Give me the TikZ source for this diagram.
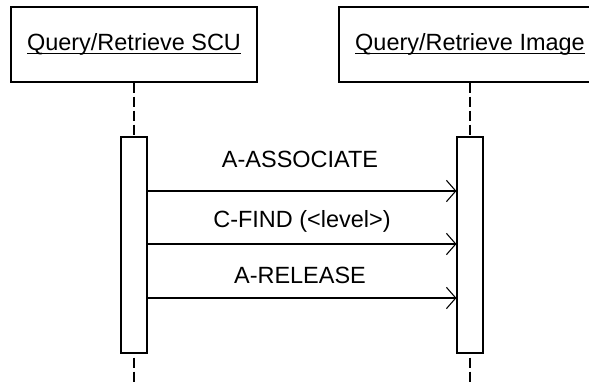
\documentclass[tikz,border=0pt]{standalone}
\usepackage{amsmath}
\usepackage{fontspec}
\setmainfont{Liberation Sans}
\usetikzlibrary{positioning, arrows.meta}
\newcommand{\objname}[1]{\underline{\smash[b]{#1}}}

\begin{document}
\begin{tikzpicture}[
    x=0.75pt,
    y=-0.75pt,
    line width=0.8pt,
    font=\fontsize{17.6}{20}\selectfont,
    object/.style={draw, minimum height=56.25pt, minimum width=184.5pt},
    activation/.style={draw, fill=white, minimum width=19.5pt, minimum height=162pt},
    lifeline/.style={dash pattern=on 7.5pt off 3pt},
    msg/.style={-{Straight Barb[length=7pt, width=16pt, line width=0.8pt]}},
    msglabel/.style={anchor=base, inner sep=0pt}
]
    \useasboundingbox (0,0) rectangle (589,385);

    \node[object] (scu) at (134,44.5) {\objname{Query/Retrieve SCU}};
    \node[object, minimum width=196.5pt] (img) at (470,44.5) {\objname{Query/Retrieve Image}};

    \node[activation] (scuact) at (134,245) {};
    \node[activation] (imgact) at (470,245) {};

    \coordinate (scuend) at (134,392);
    \coordinate (imgend) at (470,392);

    \draw[lifeline] (scu.south) -- (scuact.north);
    \draw[lifeline] (img.south) -- (imgact.north);
    \draw[lifeline] ([yshift=-3pt]scuact.south) -- (scuend);
    \draw[lifeline] ([yshift=-3pt]imgact.south) -- (imgend);

    \coordinate (m1) at (134,191);
    \coordinate (m2) at (134,244);
    \coordinate (m3) at (134,298);

    \draw[msg] (scuact.east |- m1) -- (imgact.west |- m1);
    \draw[msg] (scuact.east |- m2) -- (imgact.west |- m2);
    \draw[msg] (scuact.east |- m3) -- (imgact.west |- m3);

    \node[msglabel] (assoc) at (300,167) {A-ASSOCIATE};
    \node[msglabel] (find) at (302,227) {C-FIND (<level>)};
    \node[msglabel] (release) at (300,283) {A-RELEASE};
\end{tikzpicture}
\end{document}
